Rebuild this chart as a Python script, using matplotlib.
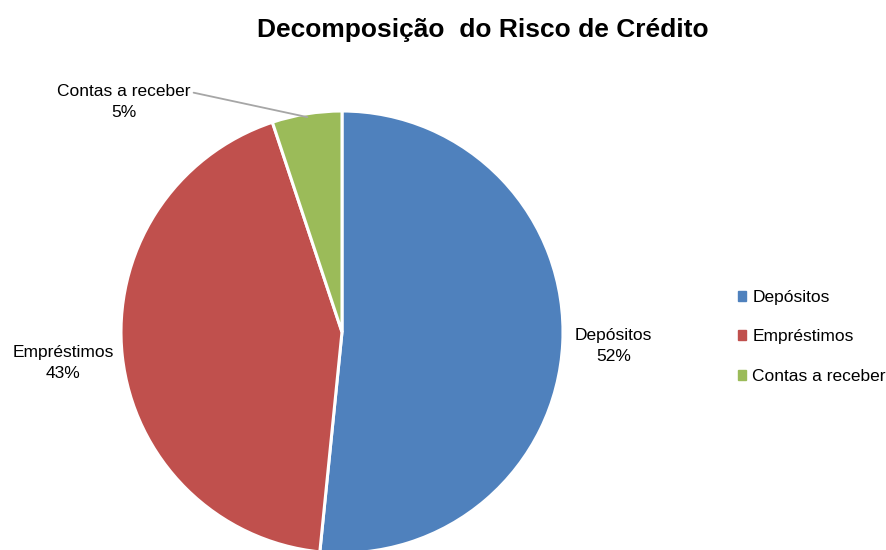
import numpy as np
import matplotlib.pyplot as plt

plt.rcParams['font.family'] = ['Liberation Sans', 'DejaVu Sans']

categorias = ['Depósitos', 'Empréstimos', 'Contas a receber']
valores = [51.6, 43.3, 5.1]
cores = ['#4f81bd', '#c0504d', '#9bbb59']

fig = plt.figure(figsize=(8.86, 5.5), dpi=100)
# pie centre ~ (342, 332) px, radius ~221 px
ax = fig.add_axes([121 / 886, -3 / 550, 442 / 886, 442 / 550])

wedges, _ = ax.pie(valores, colors=cores, startangle=90, counterclock=False,
                   wedgeprops=dict(edgecolor='white', linewidth=2.2))
ax.set_xlim(-1, 1)
ax.set_ylim(-1, 1)
ax.set_aspect('equal')

total = sum(valores)
# label distances for the first two slices
dist = [1.23, 1.27]
for i in range(2):
    w = wedges[i]
    ang = np.deg2rad((w.theta1 + w.theta2) / 2)
    x, y = dist[i] * np.cos(ang), dist[i] * np.sin(ang)
    ax.text(x, y, f'{categorias[i]}\n{round(valores[i] / total * 100):.0f}%',
            ha='center', va='center', fontsize=12.5, linespacing=1.5)

# third slice label with leader line
w = wedges[2]
ang = np.deg2rad((w.theta1 + w.theta2) / 2)
px, py = 0.985 * np.cos(ang), 0.985 * np.sin(ang)
ax.annotate(f'{categorias[2]}\n{round(valores[2] / total * 100):.0f}%',
            xy=(px, py), xytext=(-0.986, 1.04), ha='center', va='center',
            fontsize=12.5, linespacing=1.5,
            arrowprops=dict(arrowstyle='-', color='#a6a6a6', lw=1.3,
                            shrinkA=0, shrinkB=0, relpos=(1.0, 0.78)))

fig.text(483 / 886, 1 - 30 / 550, 'Decomposição  do Risco de Crédito',
         ha='center', va='center', fontsize=19, fontweight='bold')

handles = [plt.Rectangle((0, 0), 1, 1, color=c) for c in cores]
fig.legend(handles, categorias, loc='center left',
           bbox_to_anchor=(722 / 886, 1 - 337 / 550), frameon=False,
           fontsize=12.5, handlelength=0.5, handleheight=0.5,
           handletextpad=0.35, labelspacing=1.42)

fig.savefig('out.png', dpi=100)
